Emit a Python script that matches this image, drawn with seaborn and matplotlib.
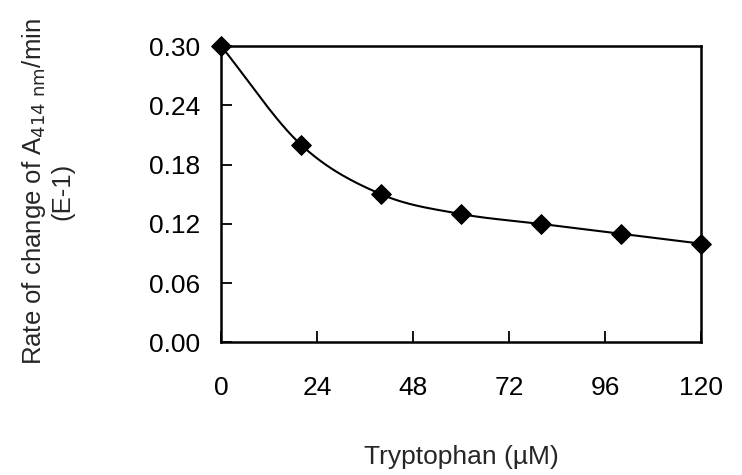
import numpy as np
import matplotlib
matplotlib.use("Agg")
import matplotlib.pyplot as plt
import seaborn as sns

# data
tryptophan = [0, 20, 40, 60, 80, 100, 120]
rate = [0.30, 0.20, 0.15, 0.13, 0.12, 0.11, 0.10]
x_ticks = [0, 24, 48, 72, 96, 120]
y_ticks = [0.00, 0.06, 0.12, 0.18, 0.24, 0.30]


def smooth_curve(x, y, n=30):
    # Catmull-Rom style smoothing like the spreadsheet "smoothed line"
    x = np.asarray(x, float)
    y = np.asarray(y, float)
    px = np.concatenate([[2 * x[0] - x[1]], x, [2 * x[-1] - x[-2]]])
    py = np.concatenate([[2 * y[0] - y[1]], y, [2 * y[-1] - y[-2]]])
    xs, ys = [], []
    t = np.linspace(0, 1, n)
    for i in range(1, len(px) - 2):
        for p, out in ((px, xs), (py, ys)):
            p0, p1, p2, p3 = p[i - 1], p[i], p[i + 1], p[i + 2]
            out.extend(0.5 * ((2 * p1) + (-p0 + p2) * t
                              + (2 * p0 - 5 * p1 + 4 * p2 - p3) * t ** 2
                              + (-p0 + 3 * p1 - 3 * p2 + p3) * t ** 3))
    return np.array(xs), np.array(ys)


sns.set_style("ticks")
plt.rcParams['font.family'] = ['Liberation Sans', 'DejaVu Sans']

fig = plt.figure(figsize=(7.42, 4.75), dpi=100)
ax = fig.add_axes([0.298, 0.279, 0.647, 0.624])

sx, sy = smooth_curve(tryptophan, rate)
ax.plot(sx, sy, color='black', lw=1.5, clip_on=False)
sns.scatterplot(x=tryptophan, y=rate, marker='D', s=100, color='black',
                edgecolor='black', ax=ax, zorder=3, clip_on=False)

ax.set_xlim(0, 120)
ax.set_ylim(0, 0.30)
ax.set_xticks(x_ticks)
ax.set_yticks(y_ticks)
ax.set_yticklabels([f"{v:.2f}" for v in y_ticks])
ax.tick_params(direction='in', length=8, width=1.3, labelsize=19,
               colors='black')
ax.tick_params(axis='x', pad=24)
ax.tick_params(axis='y', pad=15)
for s in ax.spines.values():
    s.set_linewidth(1.8)
    s.set_color('black')

ax.set_xlabel('Tryptophan (µM)', fontsize=19)
ax.xaxis.set_label_coords(0.5, -0.345)
ax.set_ylabel('Rate of change of A$_{414\\ \\mathrm{nm}}$/min\n(E-1)',
              fontsize=18.5, linespacing=1.15)
ax.yaxis.set_label_coords(-0.305, 0.51)

fig.savefig('out.png', dpi=100)
